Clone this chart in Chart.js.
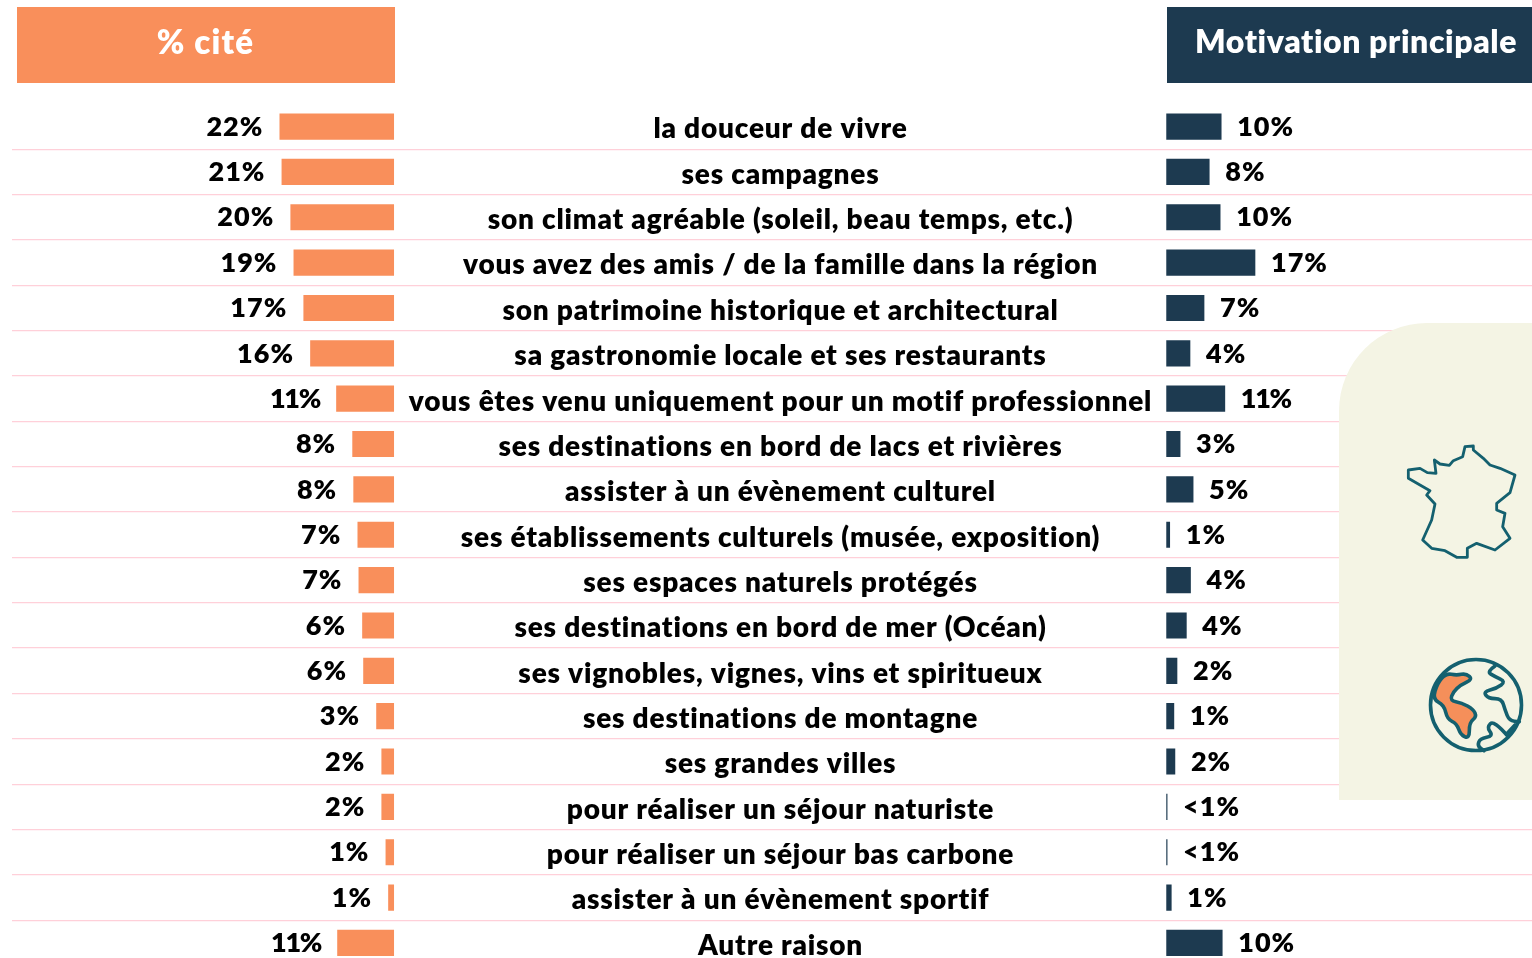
<!DOCTYPE html>
<html lang="fr"><head><meta charset="utf-8">
<style>html,body{margin:0;padding:0;background:#fff;overflow:hidden;width:1532px;height:958px}
#w{position:absolute;left:0;top:0;width:1532px;height:958px;overflow:hidden}canvas{display:block}</style>
<script src="https://cdn.jsdelivr.net/npm/chart.js@4/dist/chart.umd.js"></script></head><body>
<div id="w"><canvas id="c" width="1532" height="966"></canvas></div>
<script>
const categories=["la douceur de vivre","ses campagnes","son climat agréable (soleil, beau temps, etc.)","vous avez des amis / de la famille dans la région","son patrimoine historique et architectural","sa gastronomie locale et ses restaurants","vous êtes venu uniquement pour un motif professionnel","ses destinations en bord de lacs et rivières","assister à un évènement culturel","ses établissements culturels (musée, exposition)","ses espaces naturels protégés","ses destinations en bord de mer (Océan)","ses vignobles, vignes, vins et spiritueux","ses destinations de montagne","ses grandes villes","pour réaliser un séjour naturiste","pour réaliser un séjour bas carbone","assister à un évènement sportif","Autre raison"];
const citeValues=[21.9,21.5,19.8,19.2,17.3,16,11,7.9,7.7,6.9,6.7,6,5.8,3.3,2.3,2.3,1.5,1,10.8];
const citeLabels=["22%","21%","20%","19%","17%","16%","11%","8%","8%","7%","7%","6%","6%","3%","2%","2%","1%","1%","11%"];
const motifValues=[10.5,8.2,10.3,17,7.2,4.5,11.2,2.6,5.1,0.6,4.6,3.8,2,1.4,1.6,0.1,0.1,0.9,10.7];
const motifLabels=["10%","8%","10%","17%","7%","4%","11%","3%","5%","1%","4%","4%","2%","1%","2%","<1%","<1%","1%","10%"];
const headerLeft="% cité", headerRight="Motivation principale";

const ORANGE="#F98F5B",NAVY="#1D3A50",PINK="#FFD0D9",PANEL="#F4F4E4",ICON="#14606F";
const FONT='"Lato"';
const PX=5.2,AREA_L=12,AREA_R=1532,ZERO_L=393.7,ZERO_R=1166.6;
const Z=(x,y,ox,oy)=>[ox+x/3,oy+y/3];
const france=[[400,378],[375,380],[368,410],[340,422],[328,436],[300,432],[283,420],[288,460],[262,458],[240,445],[205,450],[205,475],[240,495],[270,512],[260,525],[285,552],[275,600],[248,660],[275,685],[315,692],[350,712],[382,712],[382,685],[410,670],[465,690],[510,655],[488,620],[495,580],[470,570],[470,550],[510,518],[525,465],[480,445],[450,435],[430,415],[400,390]];
const blob=[[318,100],[350,106],[378,100],[398,118],[362,135],[340,155],[330,182],[365,188],[400,208],[410,230],[388,248],[388,296],[362,285],[350,250],[322,238],[312,195],[278,178],[292,130]];
const wave1=[[465,78],[440,95],[465,110],[497,125],[470,145],[430,155],[445,176],[485,176],[495,210],[508,242],[538,245]];
const wave2=[[503,288],[462,240],[440,262],[460,288],[420,296],[412,318],[432,332]];
function smooth(ctx,pts,ox,oy,closed){
  const p=pts.map(a=>Z(a[0],a[1],ox,oy));ctx.beginPath();
  if(closed){const n=p.length;let m=[(p[n-1][0]+p[0][0])/2,(p[n-1][1]+p[0][1])/2];ctx.moveTo(m[0],m[1]);
    for(let i=0;i<n;i++){const q=p[(i+1)%n];ctx.quadraticCurveTo(p[i][0],p[i][1],(p[i][0]+q[0])/2,(p[i][1]+q[1])/2);}ctx.closePath();}
  else{ctx.moveTo(p[0][0],p[0][1]);for(let i=1;i<p.length-1;i++){ctx.quadraticCurveTo(p[i][0],p[i][1],(p[i][0]+p[i+1][0])/2,(p[i][1]+p[i+1][1])/2);}
    const l=p[p.length-1];ctx.lineTo(l[0],l[1]);}
}
const decor={id:'decor',
 beforeDatasetsDraw(ch){const c=ch.ctx;c.save();
  c.fillStyle=PANEL;c.beginPath();c.roundRect(1339,323,193,477,[88,0,0,0]);c.fill();
  c.fillStyle=ORANGE;c.fillRect(17,7,378,76);
  c.fillStyle=NAVY;c.fillRect(1167,7,365,76);
  c.strokeStyle=ICON;c.lineJoin='round';c.lineCap='round';c.lineWidth=2.8;
  c.beginPath();france.forEach((a,i)=>{const p=Z(a[0],a[1],1340,320);i?c.lineTo(p[0],p[1]):c.moveTo(p[0],p[1]);});c.closePath();c.stroke();
  c.lineWidth=3.6;
  smooth(c,blob,1340,640,true);c.fillStyle='#F58F5A';c.fill();c.stroke();
  c.beginPath();c.arc(1476,705,45.5,0,Math.PI*2);c.stroke();
  smooth(c,wave1,1340,640,false);c.stroke();
  smooth(c,wave2,1340,640,false);c.stroke();
  c.beginPath();c.moveTo(1340+525/3,640+255/3);c.lineTo(1340+500/3,640+282/3);c.stroke();
  c.restore();},
 afterDatasetsDraw(ch){const c=ch.ctx;c.save();c.textBaseline='middle';
  c.fillStyle='#fff';c.font='800 33px '+FONT;c.letterSpacing='1.2px';c.textAlign='center';c.fillText(headerLeft,205.5,43);
  c.font='800 32px '+FONT;c.letterSpacing='0.6px';c.textAlign='left';c.fillText(headerRight,1195,43);
  c.fillStyle='#000';
  const a=ch.getDatasetMeta(0).data,b=ch.getDatasetMeta(1).data;
  categories.forEach((t,i)=>{const y=a[i].y;
    c.font='800 27px '+FONT;
    c.letterSpacing=citeLabels[i]==='11%'?'-1.3px':'1px';
    c.textAlign='right';c.fillText(citeLabels[i],a[i].x-16.5,y+0.5);
    c.letterSpacing=motifLabels[i]==='11%'?'-1.3px':'1px';
    c.textAlign='left';c.fillText(motifLabels[i],b[i].x+16,y+0.5);
    c.font='800 28px '+FONT;c.letterSpacing='0.8px';
    c.textAlign='center';c.fillText(t,780.5,y+2.8);});
  c.restore();}};
new Chart(document.getElementById('c'),{type:'bar',
 data:{labels:categories,datasets:[
  {label:headerLeft,data:citeValues,xAxisID:'xL',backgroundColor:ORANGE,barThickness:25.5,grouped:false},
  {label:headerRight,data:motifValues,xAxisID:'xR',backgroundColor:NAVY,barThickness:25.5,grouped:false}]},
 plugins:[decor],
 options:{indexAxis:'y',responsive:false,animation:false,
  layout:{padding:{left:AREA_L,right:0,top:103.9,bottom:0.4}},
  plugins:{legend:{display:false},tooltip:{enabled:false},title:{display:false}},
  scales:{
   y:{type:'category',grid:{color:c=>c.index===0?'transparent':PINK,lineWidth:1.3,drawTicks:false},border:{display:false},ticks:{display:false}},
   xL:{type:'linear',axis:'x',position:'top',display:false,reverse:true,max:(ZERO_L-AREA_L)/PX,min:-(AREA_R-ZERO_L)/PX},
   xR:{type:'linear',axis:'x',position:'bottom',display:false,max:(AREA_R-ZERO_R)/PX,min:-(ZERO_R-AREA_L)/PX}
  }}});
</script></body></html>
